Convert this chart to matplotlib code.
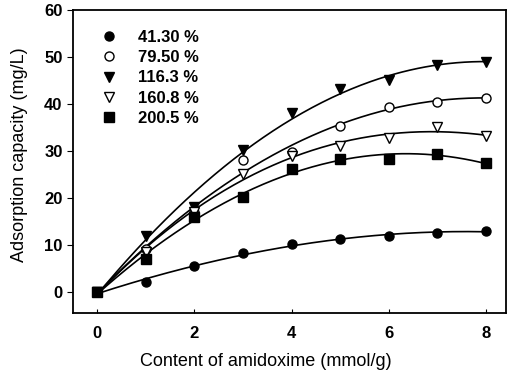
import matplotlib
matplotlib.use("Agg")
import matplotlib.pyplot as plt
import numpy as np

plt.rcParams['font.family'] = ['Liberation Sans', 'DejaVu Sans']

# Data
amidoxime = [0, 1, 2, 3, 4, 5, 6, 7, 8]
labels = ["41.30 %", "79.50 %", "116.3 %", "160.8 %", "200.5 %"]
cap_413 = [0, 2.1, 5.4, 8.2, 10.2, 11.3, 11.8, 12.6, 13.0]
cap_795 = [0, 9.1, 17.0, 28.1, 29.9, 35.3, 39.4, 40.5, 41.4]
cap_1163 = [0, 11.9, 18.1, 30.2, 38.2, 43.2, 45.1, 48.3, 49.0]
cap_1608 = [0, 8.5, 17.0, 25.2, 29.0, 31.1, 32.7, 35.2, 33.1]
cap_2005 = [0, 7.0, 16.0, 20.3, 26.2, 28.3, 28.3, 29.4, 27.4]

series = [cap_413, cap_795, cap_1163, cap_1608, cap_2005]
markers = ['o', 'o', 'v', 'v', 's']
faces = ['black', 'white', 'black', 'white', 'black']
fit_deg = [3, 3, 2, 3, 3]

fig = plt.figure(figsize=(5.08, 3.79), dpi=100)
ax = fig.add_axes([0.1437, 0.173, 0.853, 0.80])

xs = np.array(amidoxime, dtype=float)
xfine = np.linspace(0, 8, 200)
handles = []
for ys, m, fc, lab, d in zip(series, markers, faces, labels, fit_deg):
    # smooth fitted curve through the points, as in the original
    coef = np.polyfit(xs, ys, d)
    ax.plot(xfine, np.polyval(coef, xfine), color='black', lw=1.2, zorder=2)
    h, = ax.plot(xs, ys, linestyle='none', marker=m, markersize=6.5,
                 markerfacecolor=fc, markeredgecolor='black', markeredgewidth=1.0,
                 label=lab, zorder=3)
    handles.append(h)

ax.set_xlim(-0.5, 8.42)
ax.set_ylim(-4.6, 60)
ax.set_xticks([0, 2, 4, 6, 8])
ax.set_yticks([0, 10, 20, 30, 40, 50, 60])
ax.tick_params(axis='x', direction='in', length=3, labelsize=12, pad=9)
ax.tick_params(axis='y', direction='out', length=4, labelsize=12)
for t in ax.get_xticklabels() + ax.get_yticklabels():
    t.set_fontweight('bold')
for s in ax.spines.values():
    s.set_linewidth(1.3)

ax.set_xlabel('Content of amidoxime (mmol/g)', fontsize=13)
ax.xaxis.set_label_coords(0.445, -0.13)
ax.set_ylabel('Adsorption capacity (mg/L)', fontsize=13)
ax.yaxis.set_label_coords(-0.104, 0.522)

leg = ax.legend(handles=handles, loc='upper left', bbox_to_anchor=(0.03, 0.985),
                frameon=False, handlelength=1.0, handletextpad=1.2,
                labelspacing=0.32, prop={'size': 12, 'weight': 'bold'})

fig.savefig('out.png', dpi=100)
